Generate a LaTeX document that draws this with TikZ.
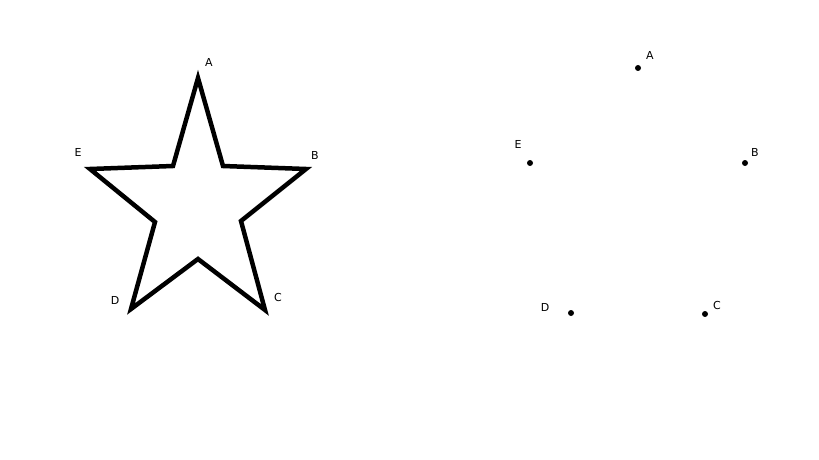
\documentclass[tikz,border=0pt]{standalone}
\usepackage{fontspec}
\setmainfont{DejaVu Sans}
\begin{document}
\begin{tikzpicture}[x=1pt,y=-1pt,
  lbl/.style={font=\fontsize{11}{13}\selectfont, inner sep=0pt},
  starline/.style={line width=4.5pt, line join=miter},
  dot/.style={circle, fill=black, inner sep=0pt, minimum size=6pt}]
\useasboundingbox (0,0) rectangle (819,460);
% left star
\coordinate (A) at (198,78);
\coordinate (AB) at (223,166);
\coordinate (B) at (306,169);
\coordinate (BC) at (241,221);
\coordinate (C) at (265,310);
\coordinate (CD) at (198,259);
\coordinate (D) at (131,309);
\coordinate (DE) at (155,222);
\coordinate (E) at (90,169);
\coordinate (EA) at (173,166);
\draw[starline] (A) -- (AB) -- (B) -- (BC) -- (C) -- (CD) -- (D) -- (DE) -- (E) -- (EA) -- cycle;
\node[lbl] (la) at (209,62) {A};
\node[lbl] (lb) at (315,155) {B};
\node[lbl] (lc) at (278,297) {C};
\node[lbl] (ld) at (115,300) {D};
\node[lbl] (le) at (78,152) {E};
% right dots
\node[dot] (pa) at (638,68) {};
\node[dot] (pb) at (745,163) {};
\node[dot] (pc) at (705,314) {};
\node[dot] (pd) at (571,313) {};
\node[dot] (pe) at (530,163) {};
\node[lbl] (ra) at (650,55) {A};
\node[lbl] (rb) at (755,152) {B};
\node[lbl] (rc) at (717,305) {C};
\node[lbl] (rd) at (545,307) {D};
\node[lbl] (re) at (518,144) {E};
\end{tikzpicture}
\end{document}
